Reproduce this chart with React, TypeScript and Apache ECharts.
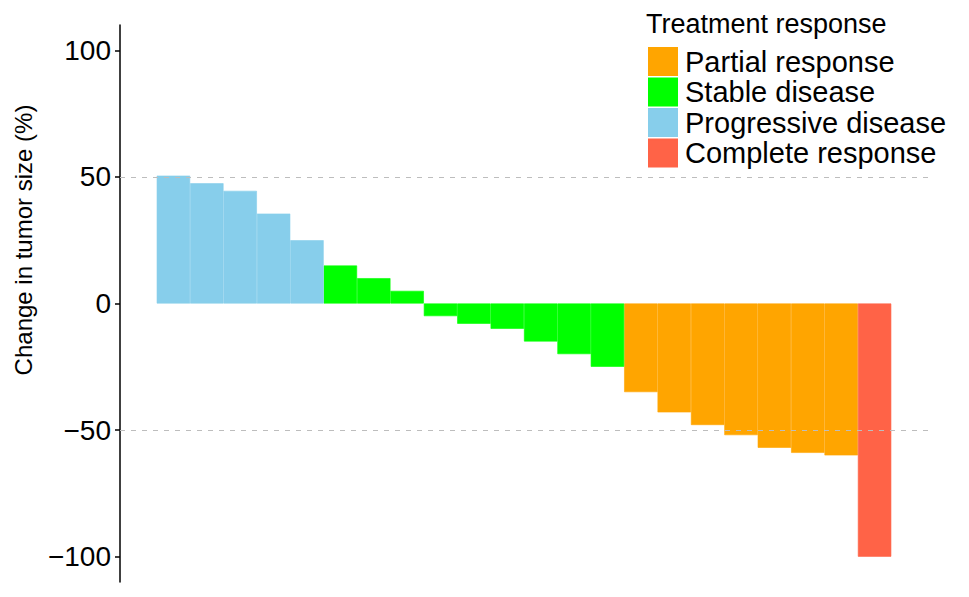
import React, { useEffect, useRef } from "react";
import * as echarts from "echarts";

const patients = [1, 2, 3, 4, 5, 6, 7, 8, 9, 10, 11, 12, 13, 14, 15, 16, 17, 18, 19, 20, 21, 22];
const responses = [
  "Progressive disease", "Progressive disease", "Progressive disease", "Progressive disease", "Progressive disease",
  "Stable disease", "Stable disease", "Stable disease", "Stable disease", "Stable disease",
  "Stable disease", "Stable disease", "Stable disease", "Stable disease",
  "Partial response", "Partial response", "Partial response", "Partial response",
  "Partial response", "Partial response", "Partial response",
  "Complete response",
];
const changes = [50.5, 47.5, 44.5, 35.5, 25, 15, 10, 5, -5, -8, -10, -15, -20, -25, -35, -43, -48, -52, -57, -59, -60, -100];
const legendOrder = ["Partial response", "Stable disease", "Progressive disease", "Complete response"];
const responseColors = ["#FFA500", "#00FF00", "#87CEEB", "#FF6347"];
const yTicks = [-100, -50, 0, 50, 100];
const referenceLines = [50, -50];

const FONT = '"Liberation Sans", Arial, Helvetica, sans-serif';

export default function App() {
  const ref = useRef<HTMLDivElement>(null);
  useEffect(() => {
    if (!ref.current) return;
    const chart = echarts.init(ref.current, undefined, { renderer: "svg" });
    const series = legendOrder.map((name, i) => ({
      type: "bar",
      name,
      barWidth: "100%",
      barGap: "-100%",
      itemStyle: { color: responseColors[i], borderColor: responseColors[i], borderWidth: 0.6 },
      data: patients
        .map((p, k) => ({ p, k }))
        .filter(({ k }) => responses[k] === name)
        .map(({ p, k }) => [p, changes[k]]),
      markLine:
        i === legendOrder.length - 1
          ? {
              silent: true,
              symbol: ["none", "none"],
              label: { show: false },
              lineStyle: { type: [5, 6], color: "#bdbdbd", width: 1 },
              data: referenceLines.map((v) => ({ yAxis: v })),
            }
          : undefined,
    }));
    chart.setOption({
      animation: false,
      textStyle: { fontFamily: FONT },
      grid: { left: 120, right: 41, top: 25, bottom: 15 },
      xAxis: { type: "value", min: -0.6, max: 23.6, show: false },
      yAxis: {
        type: "value",
        min: -110,
        max: 110,
        splitLine: { show: false },
        axisLine: { show: true, onZero: false, lineStyle: { color: "#000", width: 1.5 } },
        axisTick: { show: true, length: 5, customValues: yTicks, lineStyle: { color: "#000", width: 1.5 } },
        axisLabel: {
          customValues: yTicks,
          fontSize: 28,
          color: "#000",
          margin: 9,
          fontFamily: FONT,
          formatter: (v: number) => (v < 0 ? "\u2212" + Math.abs(v) : String(v)),
        },
      },
      legend: {
        orient: "vertical",
        left: 648,
        top: 47,
        padding: 0,
        itemWidth: 28,
        itemHeight: 27,
        itemGap: 1.5,
        icon: "rect",
        selectedMode: false,
        data: legendOrder,
        textStyle: { fontSize: 29, color: "#000", fontFamily: FONT, lineHeight: 27, padding: [0, 0, 0, 3] },
      },
      graphic: [
        {
          type: "text",
          x: 646,
          y: 24,
          style: {
            text: "Treatment response",
            fontSize: 27,
            fontFamily: FONT,
            fill: "#000",
            align: "left",
            verticalAlign: "middle",
          },
        },
        {
          type: "text",
          x: 23,
          y: 240,
          rotation: Math.PI / 2,
          style: {
            text: "Change in tumor size (%)",
            fontSize: 24,
            fontFamily: FONT,
            fill: "#000",
            align: "center",
            verticalAlign: "middle",
          },
        },
      ],
      series,
    });
    return () => chart.dispose();
  }, []);
  return <div ref={ref} style={{ position: "absolute", left: 0, top: 0, width: 969, height: 597 }} />;
}
